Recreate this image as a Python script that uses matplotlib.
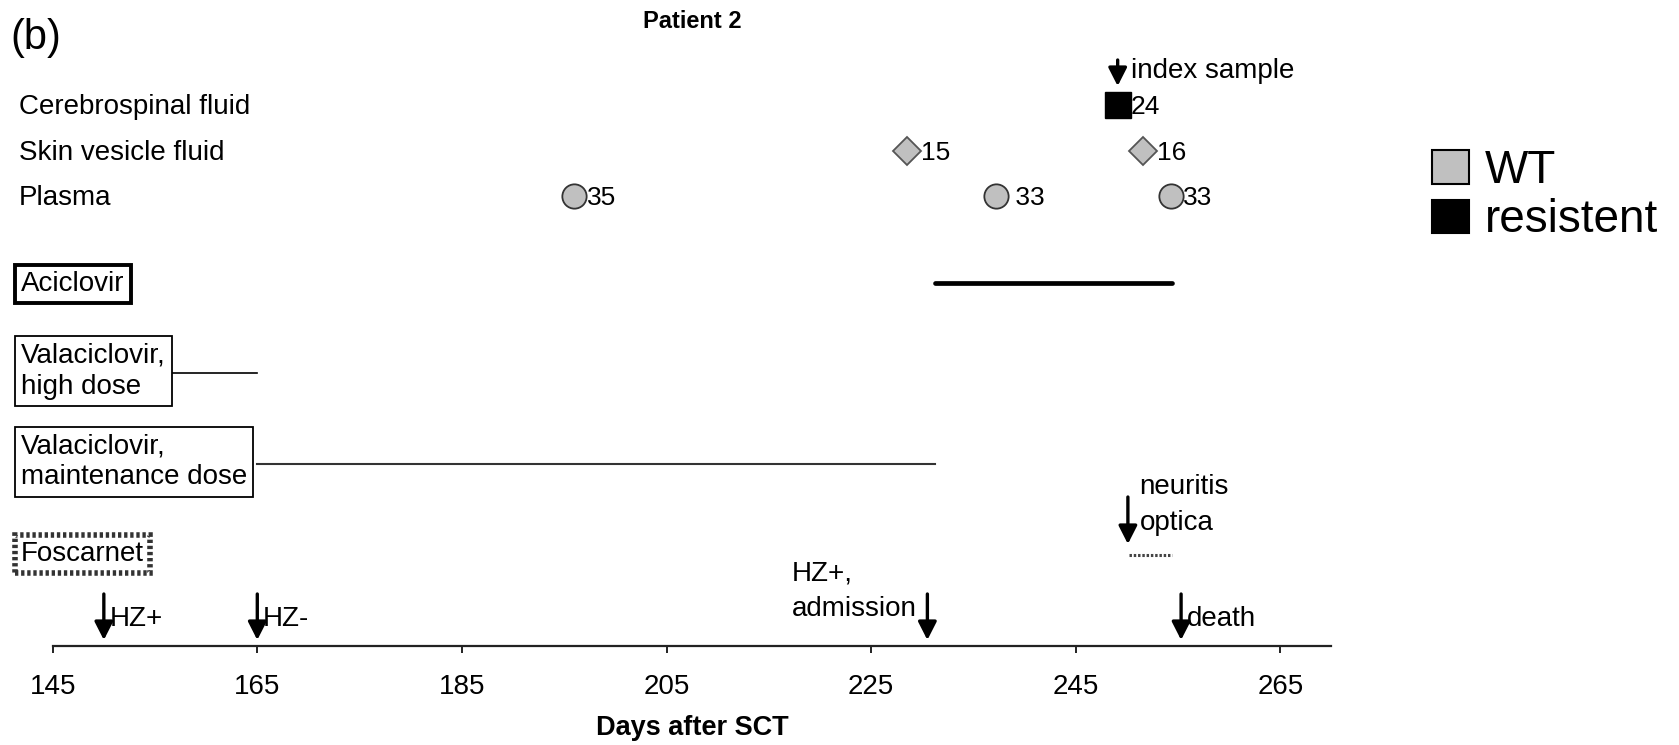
"""
Patient 2 timeline: VZV samples, antiviral treatment and clinical events
plotted against days after SCT.
"""
import matplotlib
matplotlib.use("Agg")
from matplotlib import pyplot as plt
from matplotlib.patches import Patch
from matplotlib.transforms import blended_transform_factory

plt.rcParams['font.family'] = ['Liberation Sans', 'DejaVu Sans']

# sample rows (label, days, numbers next to marker)
row_names = ['Cerebrospinal fluid', 'Skin vesicle fluid', 'Plasma']
csf_days = [249.1]
csf_labels = ['24']
skin_days = [228.5, 251.6]
skin_labels = ['15', '16']
plasma_days = [196, 237.2, 254.3]
plasma_labels = ['35', ' 33', '33']

# treatments (start day, end day)
treat_names = ['Aciclovir', 'Valaciclovir,\nhigh dose',
               'Valaciclovir,\nmaintenance dose', 'Foscarnet']
aciclovir = (231.2, 254.4)
vala_high = (155, 165)
vala_maint = (165, 231.2)
foscarnet = (250.2, 254.4)

# clinical events along the bottom
event_days = [150, 165, 230.5, 255.3]
event_labels = ['HZ+', 'HZ-', 'HZ+,\nadmission', 'death']
index_day = 249.1
neuritis_day = 250.1

ticks = [145, 165, 185, 205, 225, 245, 265]

fig = plt.figure(figsize=(16.79, 7.45), dpi=100)
ax = fig.add_axes([0, 0, 1, 1])
ax.set_xlim(139.85, 303.97)
ax.set_ylim(745, 0)  # y in pixels from top, just used for layout

for s in ['top', 'left', 'right']:
    ax.spines[s].set_visible(False)
ax.spines['bottom'].set_position(('data', 646))
ax.spines['bottom'].set_bounds(145, 270)
ax.spines['bottom'].set_linewidth(1.6)
ax.spines['bottom'].set_color('#222222')
ax.set_yticks([])
ax.set_xticks(ticks)
ax.set_xticklabels([str(t) for t in ticks])
ax.tick_params(axis='x', direction='out', length=5, width=1.4, colors='#222222',
               labelsize=20, pad=15, labelcolor='black')

GRAY = '#c0c0c0'
row_y = [107, 153, 198]
mark_y = [105, 151, 196]
left = blended_transform_factory(fig.transFigure, ax.transData)
for name, y in zip(row_names, row_y):
    ax.text(19 / 1679, y, name, transform=left, fontsize=20, va='center', ha='left')

# samples
ax.plot(csf_days, [mark_y[0]] * len(csf_days), 's', ms=18.5, mfc='black', mec='black')
ax.plot(skin_days, [mark_y[1]] * len(skin_days), 'D', ms=14.5, mfc=GRAY, mec='#555555', mew=1.3)
ax.plot(plasma_days, [mark_y[2]] * len(plasma_days), 'o', ms=17.5, mfc=GRAY, mec='#333333', mew=1.3)
for days, labs, y, off in [(csf_days, csf_labels, mark_y[0], 9),
                           (skin_days, skin_labels, mark_y[1], 10),
                           (plasma_days, plasma_labels, mark_y[2], 9)]:
    for d, lab in zip(days, labs):
        ax.annotate(lab, (d, y + 2), xytext=(off, 0), textcoords='offset points',
                    fontsize=19, va='center', ha='left')

# treatment boxes and lines
box_y = [284, 371, 462, 554]
box_styles = [dict(lw=2.8, ls='-', ec='black'),
              dict(lw=1.3, ls='-', ec='black'),
              dict(lw=1.3, ls='-', ec='black'),
              dict(lw=4.0, ls=(0, (0.6, 0.5)), ec='#333333')]
for name, y, st in zip(treat_names, box_y, box_styles):
    ax.text(21 / 1679, y, name, transform=left, fontsize=20, va='center', ha='left',
            linespacing=1.25,
            bbox=dict(boxstyle='square,pad=0.22', fc='white', **st))

ax.plot(aciclovir, [283, 283], color='black', lw=3.4, solid_capstyle='round')
ax.plot(vala_high, [373, 373], color='black', lw=1.2)
ax.plot(vala_maint, [464, 464], color='#333333', lw=1.5)
ax.plot(foscarnet, [555, 555], color='#444444', lw=2.2, ls=(0, (0.8, 0.6)))

arrow = dict(arrowstyle='-|>,head_length=0.55,head_width=0.28', lw=2.4, color='black',
             shrinkA=0, shrinkB=0, mutation_scale=20)

# events on the time axis
for d, lab in zip(event_days, event_labels):
    ax.annotate('', xy=(d, 640), xytext=(d, 594), arrowprops=arrow)
    if lab.startswith('HZ+,'):
        ax.text(d - 1.05, 591, lab, fontsize=20, va='center', ha='right',
                multialignment='left', linespacing=1.45)
    else:
        ax.text(d + 0.55, 619, lab, fontsize=20, va='center', ha='left')

ax.annotate('', xy=(index_day, 86), xytext=(index_day, 60), arrowprops=arrow)
ax.text(index_day + 1.35, 71, 'index sample', fontsize=20, va='center', ha='left')

ax.annotate('', xy=(neuritis_day, 544), xytext=(neuritis_day, 497), arrowprops=arrow)
ax.text(neuritis_day + 1.15, 505, 'neuritis\noptica', fontsize=20, va='center', ha='left',
        linespacing=1.5)

# titles
ax.text(207.5, 21, 'Patient 2', fontsize=17, fontweight='bold', ha='center', va='center')
ax.text(207.5, 728, 'Days after SCT', fontsize=19.5, fontweight='bold', ha='center', va='center')
fig.text(10 / 1679, 1 - 38 / 745, '(b)', fontsize=30, va='center', ha='left')

ax.legend(handles=[Patch(fc=GRAY, ec='black', lw=1.5, label='WT'),
                   Patch(fc='black', ec='black', lw=1.5, label='resistent')],
          loc='upper left', bbox_to_anchor=(1432 / 1679, 1 - 149 / 745),
          bbox_transform=fig.transFigure, frameon=False, fontsize=33,
          handlelength=0.8, handleheight=0.75, handletextpad=0.35,
          labelspacing=0.12, borderpad=0, borderaxespad=0)

plt.savefig('out.png', dpi=100)
